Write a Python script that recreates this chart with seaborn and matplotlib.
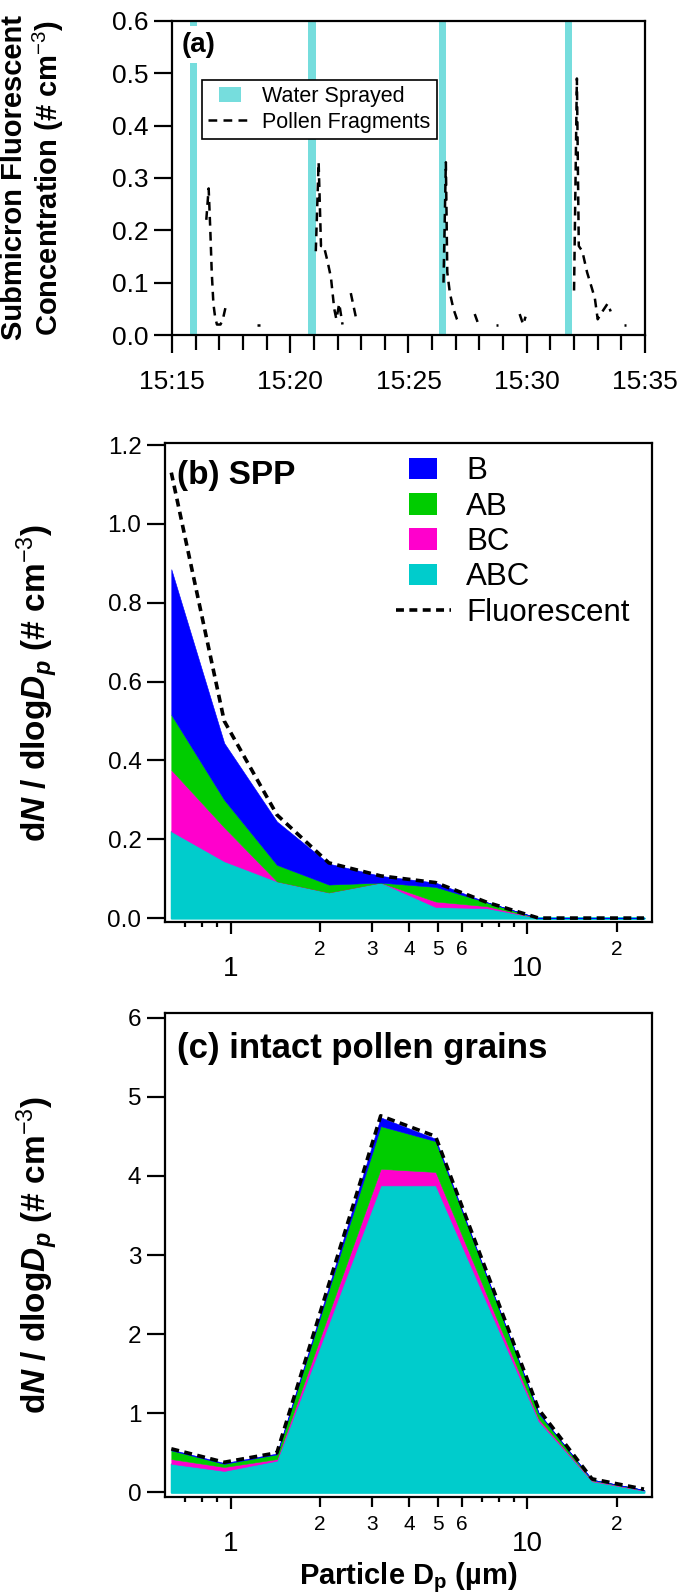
import numpy as np
import pandas as pd
import matplotlib
matplotlib.use("Agg")
import matplotlib.pyplot as plt
import seaborn as sns
from matplotlib.ticker import (FixedLocator, FixedFormatter, MultipleLocator,
                               FuncFormatter, FormatStrFormatter)
from matplotlib.patches import Patch, Rectangle
from matplotlib.lines import Line2D
from matplotlib.legend_handler import HandlerPatch

# ---------------- data ----------------
# panel (a): times in minutes after 15:00
spray_start = [15.76, 20.77, 26.30, 31.62]
spray_end = [16.06, 21.07, 26.60, 31.92]

frag_seg = [0, 0, 0, 0, 0, 0, 0, 0, 0, 0,
            1, 1,
            2, 2, 2, 2, 2, 2, 2, 2, 2, 2, 2,
            3, 3,
            4, 4, 4, 4, 4, 4, 4,
            5, 5,
            6, 6,
            7, 7, 7,
            8, 8, 8, 8, 8, 8, 8, 8, 8, 8, 8,
            9, 9]
frag_time = [16.45, 16.55, 16.62, 16.68, 16.75, 16.82, 16.90, 17.05, 17.15, 17.30,
             18.60, 18.70,
             21.08, 21.20, 21.30, 21.42, 21.58, 21.72, 21.79, 21.86, 21.95, 22.07, 22.21,
             22.56, 22.77,
             26.48, 26.58, 26.64, 26.75, 26.90, 27.05, 27.18,
             27.80, 27.92,
             28.70, 28.80,
             29.70, 29.85, 29.95,
             32.00, 32.12, 32.20, 32.35, 32.55, 32.75, 32.88, 33.00, 33.20, 33.42, 33.55,
             34.10, 34.20]
frag_conc = [0.22, 0.28, 0.20, 0.12, 0.06, 0.035, 0.02, 0.02, 0.03, 0.06,
             0.02, 0.02,
             0.16, 0.33, 0.17, 0.17, 0.14, 0.11, 0.08, 0.05, 0.03, 0.06, 0.02,
             0.08, 0.035,
             0.10, 0.33, 0.12, 0.08, 0.05, 0.03, 0.02,
             0.04, 0.025,
             0.02, 0.02,
             0.04, 0.02, 0.035,
             0.085, 0.49, 0.17, 0.16, 0.12, 0.09, 0.07, 0.03, 0.045, 0.06, 0.045,
             0.02, 0.02]

# panels (b), (c): particle diameter bins (um)
dp = [0.63, 0.95, 1.43, 2.14, 3.2, 4.9, 7.3, 10.9, 16.5, 24.7]

spp_abc = [0.220, 0.144, 0.093, 0.065, 0.090, 0.028, 0.025, 0.0, 0.0, 0.0]
spp_bc = [0.156, 0.086, 0.000, 0.000, 0.000, 0.014, 0.005, 0.0, 0.0, 0.0]
spp_ab = [0.140, 0.070, 0.042, 0.020, 0.000, 0.037, 0.010, 0.0, 0.0, 0.0]
spp_b = [0.369, 0.144, 0.110, 0.053, 0.017, 0.011, 0.000, 0.0, 0.0, 0.0]
spp_fluor = [1.13, 0.50, 0.262, 0.140, 0.107, 0.090, 0.040, 0.0, 0.0, 0.0]

ipg_abc = [0.36, 0.27, 0.40, 2.14, 3.88, 3.88, 2.39, 0.90, 0.14, 0.02]
ipg_bc = [0.06, 0.05, 0.02, 0.12, 0.21, 0.17, 0.10, 0.03, 0.01, 0.005]
ipg_ab = [0.11, 0.04, 0.06, 0.30, 0.54, 0.39, 0.23, 0.07, 0.01, 0.005]
ipg_b = [0.01, 0.01, 0.01, 0.04, 0.11, 0.03, 0.01, 0.01, 0.0, 0.0]
ipg_fluor = [0.55, 0.38, 0.50, 2.63, 4.76, 4.50, 2.78, 1.05, 0.17, 0.04]

class_labels = ["B", "AB", "BC", "ABC"]

# ---------------- style ----------------
C_B, C_AB, C_BC, C_ABC = "#0000FF", "#00CC00", "#FF00CC", "#00CCCC"
SPRAY = "#76DDDD"

sns.set_theme(style="ticks")
plt.rcParams["font.family"] = ["Liberation Sans", "DejaVu Sans"]
plt.rcParams["mathtext.fontset"] = "custom"
plt.rcParams["mathtext.rm"] = "Liberation Sans"
plt.rcParams["mathtext.it"] = "Liberation Sans:italic"
plt.rcParams["mathtext.bf"] = "Liberation Sans:bold"
plt.rcParams["mathtext.bfit"] = "Liberation Sans:italic:bold"
for k in ["axes.edgecolor", "xtick.color", "ytick.color", "axes.labelcolor", "text.color"]:
    plt.rcParams[k] = "black"
plt.rcParams["axes.linewidth"] = 1.6

LW_SP = 1.6

fig = plt.figure(figsize=(6.85, 15.96), dpi=100)
ax_a = fig.add_axes([0.2511, 0.7901, 0.6905, 0.1968])
ax_b = fig.add_axes([0.2409, 0.4223, 0.7110, 0.3001])
ax_c = fig.add_axes([0.2409, 0.0620, 0.7110, 0.3033])


def narrow_patch(frac):
    def f(legend, orig_handle, xdescent, ydescent, width, height, fontsize):
        w = width * frac
        return Rectangle((-xdescent + (width - w) / 2, -ydescent), w, height)
    return f


# ---------------- panel (a) ----------------
for s, e in zip(spray_start, spray_end):
    ax_a.axvspan(s, e, color=SPRAY, lw=0, zorder=1)

df_frag = pd.DataFrame({"t": frag_time, "c": frag_conc, "seg": frag_seg})
sns.lineplot(data=df_frag, x="t", y="c", units="seg", estimator=None,
             color="black", lw=1.8, linestyle=(0, (3.5, 2.5)), ax=ax_a,
             legend=False, zorder=3)

ax_a.set_xlim(15, 35)
ax_a.set_ylim(0, 0.6)
ax_a.xaxis.set_major_locator(MultipleLocator(5))
ax_a.xaxis.set_minor_locator(MultipleLocator(1))
ax_a.xaxis.set_major_formatter(FuncFormatter(lambda v, p: "15:%02d" % int(round(v))))
ax_a.yaxis.set_major_locator(MultipleLocator(0.1))
ax_a.yaxis.set_major_formatter(FormatStrFormatter("%.1f"))
ax_a.tick_params(axis="both", which="major", direction="out", length=13,
                 width=LW_SP, labelsize=19)
ax_a.tick_params(axis="x", which="major", pad=12)
ax_a.tick_params(axis="y", which="major", pad=4)
ax_a.tick_params(axis="x", which="minor", direction="out", length=10.8, width=LW_SP)
ax_a.set_xlabel("")
ax_a.set_ylabel("Submicron Fluorescent\nConcentration (# cm$^{-3}$)",
                fontsize=21, fontweight="bold", linespacing=1.1)
ax_a.yaxis.set_label_coords(-0.225, 0.5)

ax_a.text(0.021, 0.924, "(a)", transform=ax_a.transAxes, fontsize=20,
          fontweight="bold", ha="left", va="center", zorder=4,
          bbox=dict(facecolor="white", edgecolor="none", pad=4))

h_spray = Patch(facecolor=SPRAY, edgecolor="none", label="Water Sprayed")
h_frag = Line2D([], [], color="black", lw=1.8, linestyle=(0, (3.5, 2.5)),
                label="Pollen Fragments")
leg_a = ax_a.legend(handles=[h_spray, h_frag], loc="upper left",
                    bbox_to_anchor=(0.063, 0.812), borderaxespad=0,
                    frameon=True, fancybox=False, edgecolor="black",
                    framealpha=1, fontsize=15.5, handlelength=2.0,
                    handletextpad=0.5, borderpad=0.3, labelspacing=0.2,
                    handler_map={Patch: HandlerPatch(patch_func=narrow_patch(0.5))})
leg_a.get_frame().set_linewidth(1.2)
leg_a.set_zorder(5)


# ---------------- panels (b), (c) ----------------
def stacked(ax, abc, bc, ab, b, fluor):
    base = np.zeros(len(dp))
    for vals, col, lw in zip([abc, bc, ab, b], [C_ABC, C_BC, C_AB, C_B],
                             [1.5, 0.4, 0.4, 0.4]):
        top = base + np.asarray(vals, dtype=float)
        ax.fill_between(dp, base, top, facecolor=col, edgecolor=col, lw=lw, zorder=2)
        base = top
    sns.lineplot(x=dp, y=fluor, ax=ax, color="black", lw=2.6,
                 linestyle=(0, (2.2, 1.5)), zorder=4, legend=False)


def log_axis(ax):
    ax.set_xscale("log")
    ax.set_xlim(0.6, 26.3)
    ax.xaxis.set_major_locator(FixedLocator([1, 10]))
    ax.xaxis.set_major_formatter(FixedFormatter(["1", "10"]))
    minor = [0.7, 0.8, 0.9, 2, 3, 4, 5, 6, 7, 8, 9, 20]
    lab = {2: "2", 3: "3", 4: "4", 5: "5", 6: "6", 20: "2"}
    ax.xaxis.set_minor_locator(FixedLocator(minor))
    ax.xaxis.set_minor_formatter(FixedFormatter([lab.get(m, "") for m in minor]))
    ax.tick_params(axis="x", which="major", direction="out", length=8.6,
                   width=LW_SP, pad=16, labelsize=20)
    ax.tick_params(axis="x", which="minor", direction="out", length=7.2,
                   width=LW_SP, pad=5.5, labelsize=15)
    ax.tick_params(axis="y", which="major", direction="out", length=13,
                   width=LW_SP, pad=4, labelsize=17.5)
    ax.set_xlabel("")
    ax.set_ylabel(r"d$\mathbfit{N}$ / dlog$\mathbfit{D}_{\mathbfit{p}}$ (# cm$^{-3}$)",
                  fontsize=24, fontweight="bold")
    ax.yaxis.set_label_coords(-0.215, 0.5)


stacked(ax_b, spp_abc, spp_bc, spp_ab, spp_b, spp_fluor)
log_axis(ax_b)
ax_b.set_ylim(-0.01, 1.205)
ax_b.yaxis.set_major_locator(MultipleLocator(0.2))
ax_b.yaxis.set_major_formatter(FormatStrFormatter("%.1f"))
ax_b.text(0.025, 0.933, "(b) SPP", transform=ax_b.transAxes, fontsize=24,
          fontweight="bold", ha="left", va="center", zorder=5)

handles_b = [Patch(facecolor=c, edgecolor="none", label=l)
             for c, l in zip([C_B, C_AB, C_BC, C_ABC], class_labels)]
handles_b.append(Line2D([], [], color="black", lw=2.6, linestyle=(0, (2.2, 1.5)),
                        label="Fluorescent"))
ax_b.legend(handles=handles_b, loc="upper left", bbox_to_anchor=(0.474, 0.972),
            frameon=False, fontsize=22.5, handlelength=1.75, handletextpad=0.5,
            labelspacing=0.17, borderaxespad=0, borderpad=0,
            handler_map={Patch: HandlerPatch(patch_func=narrow_patch(0.52))})

stacked(ax_c, ipg_abc, ipg_bc, ipg_ab, ipg_b, ipg_fluor)
log_axis(ax_c)
ax_c.set_ylim(-0.06, 6.06)
ax_c.yaxis.set_major_locator(MultipleLocator(1))
ax_c.yaxis.set_major_formatter(FormatStrFormatter("%d"))
ax_c.text(0.025, 0.926, "(c) intact pollen grains", transform=ax_c.transAxes,
          fontsize=25, fontweight="bold", ha="left", va="center", zorder=5)
ax_c.set_xlabel(r"Particle D$_{\mathbf{p}}$ (µm)", fontsize=21, fontweight="bold")
ax_c.xaxis.set_label_coords(0.5, -0.130)
ax_c.xaxis.label.set_va("top")

for ax in (ax_a, ax_b, ax_c):
    for sp in ax.spines.values():
        sp.set_visible(True)
        sp.set_linewidth(LW_SP)
        sp.set_color("black")

# unlabeled minor ticks are shorter
for ax in (ax_b, ax_c):
    locs = ax.xaxis.get_minorticklocs()
    ticks = ax.xaxis.get_minor_ticks(len(locs))
    for loc, t in zip(locs, ticks):
        if loc not in (2, 3, 4, 5, 6, 20):
            t.tick1line.set_markersize(3.6)

fig.savefig("out.png", dpi=100)
